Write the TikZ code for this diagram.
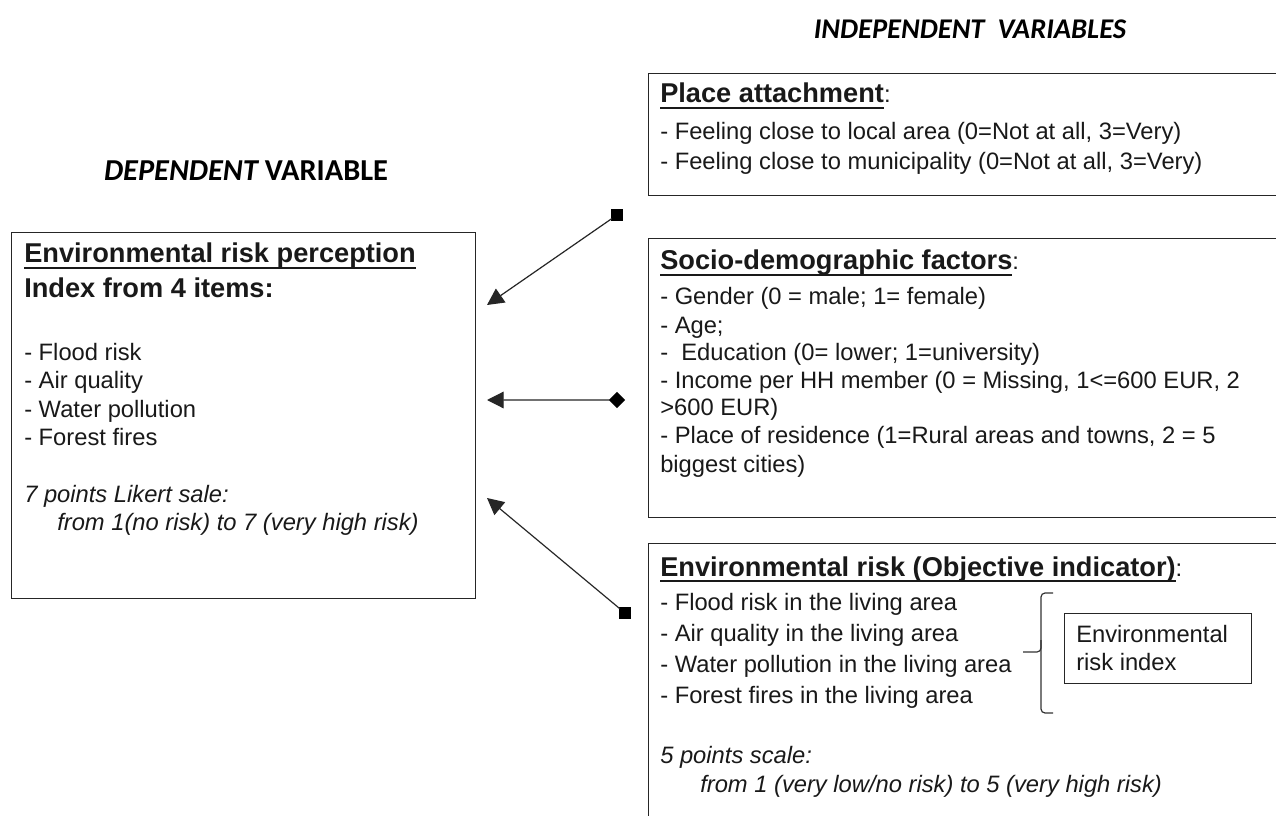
\documentclass[tikz,border=0pt]{standalone}
\usepackage{fontspec}
\setmainfont{Liberation Sans}
\newfontfamily\calibri{Carlito}
\usetikzlibrary{arrows.meta}
\newcommand\hul[1]{\setbox0\hbox{#1}\rlap{\rule[-4.6pt]{\wd0}{1.3pt}}\box0}
\tikzset{
  txt/.style={anchor=base west, inner sep=0pt, text=black!90, font=\fontsize{17.8}{21}\selectfont},
  hd/.style={txt, font=\fontsize{20.4}{24}\selectfont\bfseries},
  itl/.style={txt, font=\fontsize{17.8}{21}\selectfont\itshape},
  ttl/.style={anchor=base, inner sep=0pt, text=black},
  box/.style={draw=black!85, line width=1.1pt, anchor=north west, inner sep=0pt},
  conn/.style={draw=black!85, line width=0.9pt, shorten <=-1pt},
  sqtail/.style={fill=black, inner sep=0pt, minimum size=9pt},
  dmtail/.style={fill=black, inner sep=0pt, minimum size=8.5pt, rotate=45},
  brk/.style={draw=black!80, line width=0.9pt, rounded corners=3pt}
}
\begin{document}
\begin{tikzpicture}[x=0.75pt,y=-0.75pt]
\useasboundingbox (0,0) rectangle (1276,816);
\clip (0,0) rectangle (1276,816);
\fill[white] (0,0) rectangle (1276,816);

% titles
\node[ttl, font=\calibri\fontsize{22.8}{26}\selectfont\bfseries] (tdep) at (246,181) {\itshape DEPENDENT\upshape{} VARIABLE};
\node[ttl, font=\calibri\fontsize{21.4}{25}\selectfont\bfseries] (tind) at (970,39) {\itshape INDEPENDENT\ \ VARIABLES};

% boxes
\node[box, minimum width={464*0.75pt}, minimum height={366*0.75pt}] (lbox) at (11,232) {};
\node[box, minimum width={652*0.75pt}, minimum height={122*0.75pt}] (pbox) at (648,73) {};
\node[box, minimum width={652*0.75pt}, minimum height={279*0.75pt}] (sbox) at (648,238) {};
\node[box, minimum width={652*0.75pt}, minimum height={287*0.75pt}] (ebox) at (648,543) {};
\node[box, minimum width={187*0.75pt}, minimum height={70*0.75pt}] (ibox) at (1064,613) {};

% left box text
\node[hd] (l0) at (24,263) {\hul{Environmental risk perception}};
\node[hd] (l1) at (24,297) {Index from 4 items:};
\node[txt] (l2) at (24,360) {- Flood risk};
\node[txt] (l3) at (24,388) {- Air quality};
\node[txt] (l4) at (24,417) {- Water pollution};
\node[txt] (l5) at (24,445) {- Forest fires};
\node[itl] (l6) at (24,502) {7 points Likert sale:};
\node[itl] (l7) at (57,530) {from 1(no risk) to 7 (very high risk)};

% place attachment
\node[txt] (p0) at (660,103) {{\bfseries\fontsize{20.4}{24}\selectfont\hul{Place attachment}}:};
\node[txt] (p1) at (660,140) {- Feeling close to local area (0=Not at all, 3=Very)};
\node[txt] (p2) at (660,170) {- Feeling close to municipality (0=Not at all, 3=Very)};

% socio-demographic
\node[txt] (s0) at (660,270) {{\bfseries\fontsize{20.4}{24}\selectfont\hul{Socio-demographic factors}}:};
\node[txt] (s1) at (660,305) {- Gender (0 = male; 1= female)};
\node[txt] (s2) at (660,333) {- Age;};
\node[txt] (s3) at (660,360) {-\ \ Education (0= lower; 1=university)};
\node[txt] (s4) at (660,388) {- Income per HH member (0 = Missing, 1<=600 EUR, 2};
\node[txt] (s5) at (660,415) {>600 EUR)};
\node[txt] (s6) at (660,443) {- Place of residence (1=Rural areas and towns, 2 = 5};
\node[txt] (s7) at (660,472) {biggest cities)};

% environmental risk
\node[txt] (e0) at (660,576) {{\bfseries\fontsize{20.4}{24}\selectfont\hul{Environmental risk (Objective indicator)}}:};
\node[txt] (e1) at (660,610) {- Flood risk in the living area};
\node[txt] (e2) at (660,641) {- Air quality in the living area};
\node[txt] (e3) at (660,672) {- Water pollution in the living area};
\node[txt] (e4) at (660,703) {- Forest fires in the living area};
\node[itl] (e5) at (660,763) {5 points scale:};
\node[itl] (e6) at (700,792) {from 1 (very low/no risk) to 5 (very high risk)};

\node[txt] (i1) at (1076,642) {Environmental};
\node[txt] (i2) at (1076,670) {risk index};

% bracket
\draw[brk] (1053,593) -- (1041,593) -- (1041,652) -- (1023,652);
\draw[brk] (1041,640) -- (1041,713) -- (1053,713);

% connectors
\node[sqtail] (t1) at (617,215) {};
\node[dmtail] (t2) at (617,400) {};
\node[sqtail] (t3) at (625,613) {};
\coordinate (h1) at (487,305);
\coordinate (h2) at (487,400);
\coordinate (h3) at (487,498);
\draw[conn, -{Triangle[length=12.5pt,width=12.5pt]}] (t1) -- (h1);
\draw[conn, -{Triangle[length=12.5pt,width=12.5pt]}] (t2) -- (h2);
\draw[conn, -{Triangle[length=12.5pt,width=12.5pt]}] (t3) -- (h3);
\end{tikzpicture}
\end{document}
